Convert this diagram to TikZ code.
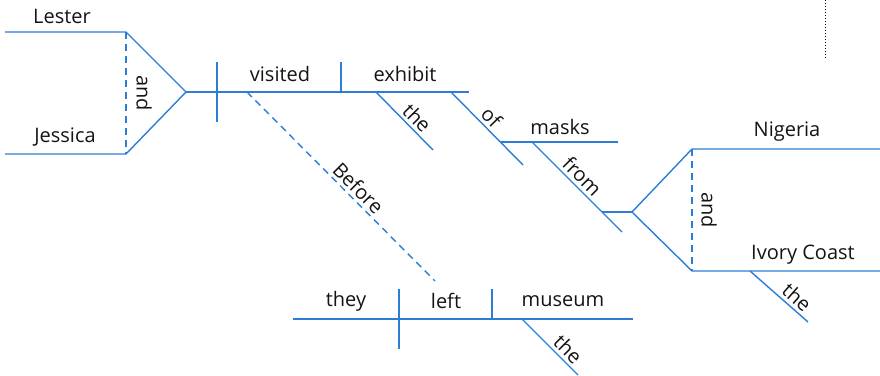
\documentclass[tikz,border=0pt]{standalone}
\usepackage{fontspec}
\setmainfont{Open Sans}
\definecolor{diag}{RGB}{45,125,215}
\definecolor{ink}{RGB}{20,20,20}
\begin{document}
\begin{tikzpicture}[x=1pt,y=-1pt,
  ln/.style={draw=diag,line width=1.4pt},
  dln/.style={draw=diag,line width=1.4pt,dash pattern=on 7pt off 5pt},
  wd/.style={text=ink,font=\fontsize{20}{20}\selectfont,inner sep=1pt},
  slw/.style={wd,sloped,above,inner sep=3pt}]
\useasboundingbox (0,0) rectangle (880,375);
% compound subject
\coordinate (les0) at (5,32); \coordinate (les1) at (126,32);
\coordinate (jes0) at (5,154); \coordinate (jes1) at (126,154);
\coordinate (fork1) at (186,92);
\draw[ln] (les0) -- (les1) -- (fork1) -- (jes1) -- (jes0);
\draw[dln] (les1) -- (jes1);
\node[wd] (lester) at (62,16) {Lester};
\node[wd] (jessica) at (65,137) {Jessica};
\node[wd,rotate=-90] (and1) at (144,93) {and};
% main line
\coordinate (mainend) at (469,92);
\draw[ln] (fork1) -- (mainend);
\coordinate (sv0) at (217,62); \coordinate (sv1) at (217,122);
\draw[ln] (sv0) -- (sv1);
\coordinate (vo0) at (341,62); \coordinate (vo1) at (341,92);
\draw[ln] (vo0) -- (vo1);
\node[wd] (visited) at (280,74) {visited};
\node[wd] (exhibit) at (405,74) {exhibit};
% the (exhibit)
\coordinate (the1a) at (376,92); \coordinate (the1b) at (433,150);
\draw[ln] (the1a) -- node[slw,pos=0.58] (the1) {the} (the1b);
% of masks
\coordinate (ofa) at (451,92); \coordinate (ofb) at (523,165);
\draw[ln] (ofa) -- node[slw,pos=0.45] (of) {of} (ofb);
\coordinate (ma0) at (501,142); \coordinate (ma1) at (618,142);
\draw[ln] (ma0) -- (ma1);
\node[wd] (masks) at (560,127) {masks};
% from
\coordinate (fra) at (532,142); \coordinate (frb) at (622,232);
\draw[ln] (fra) -- node[slw,pos=0.47] (from) {from} (frb);
\coordinate (fr0) at (602,212); \coordinate (fork2) at (632,212);
\draw[ln] (fr0) -- (fork2);
% Nigeria and Ivory Coast
\coordinate (ni0) at (692,149); \coordinate (ni1) at (880,149);
\coordinate (iv0) at (692,271); \coordinate (iv1) at (880,271);
\draw[ln] (ni1) -- (ni0) -- (fork2) -- (iv0) -- (iv1);
\draw[dln] (ni0) -- (iv0);
\node[wd] (nigeria) at (787,132) {Nigeria};
\node[wd] (ivory) at (803,255) {Ivory Coast};
\node[wd,rotate=-90] (and2) at (709,210) {and};
\coordinate (the3a) at (750,271); \coordinate (the3b) at (808,322);
\draw[ln] (the3a) -- node[slw,pos=0.68] (the3) {the} (the3b);
% Before clause
\coordinate (bfa) at (247,92); \coordinate (bfb) at (435,281);
\draw[dln] (bfa) -- node[slw,pos=0.55] (before) {Before} (bfb);
\coordinate (bl0) at (293,319); \coordinate (bl1) at (633,319);
\draw[ln] (bl0) -- (bl1);
\coordinate (d1a) at (399,289); \coordinate (d1b) at (399,349);
\draw[ln] (d1a) -- (d1b);
\coordinate (d2a) at (492,289); \coordinate (d2b) at (492,319);
\draw[ln] (d2a) -- (d2b);
\node[wd] (they) at (346,301) {they};
\node[wd] (left) at (446,301) {left};
\node[wd] (museum) at (563,301) {museum};
\coordinate (the2a) at (522,319); \coordinate (the2b) at (578,375);
\draw[ln] (the2a) -- node[slw,pos=0.68] (the2) {the} (the2b);
% dotted margin mark
\coordinate (dt0) at (825,0); \coordinate (dt1) at (825,59);
\draw[black,line width=1pt,dash pattern=on 1pt off 2pt] (dt0) -- (dt1);
\end{tikzpicture}
\end{document}
